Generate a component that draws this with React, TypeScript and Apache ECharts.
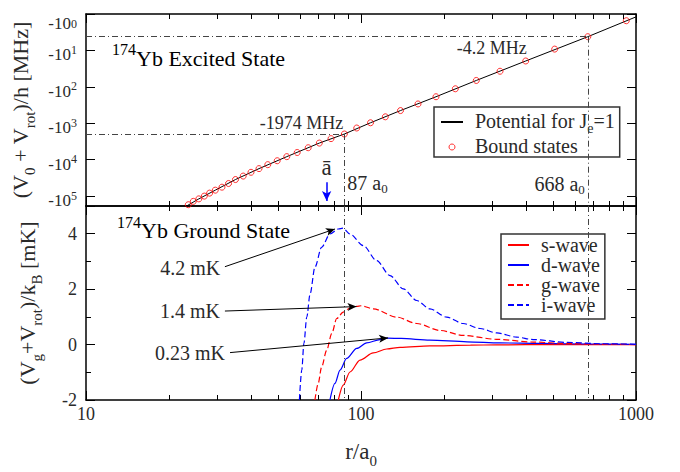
import { useEffect, useRef } from 'react';
import * as echarts from 'echarts';

const SERIF = '"Liberation Serif", "Times New Roman", Times, serif';
const INK = '#2a2a2a';

// ---- 174Yb excited state (J_e = 1): potential and bound states, energies in MHz ----
const potentialR = [23.0, 25.72, 29.52, 34.96, 42.57, 53.73, 70.53, 87, 108.3, 139.2, 187.4, 262.6, 397.2, 668, 1000];
const potentialE = [-195000, -119200, -68700, -35100, -17600, -8260, -3500, -1974, -969, -448, -187, -66.8, -19.5, -4.2, -1.2];

const boundR = [23.55, 24.56, 25.72, 26.93, 28.15, 29.52, 31.22, 32.98, 34.96, 37.29, 39.81, 42.57, 45.82, 49.58, 53.73, 58.61,
  64.27, 70.53, 77.8, 87, 96.5, 108.3, 122.6, 139.2, 161.2, 187.4, 220.3, 262.6, 320.3, 397.2, 506.2, 668, 922];
const boundE = [-172500, -139400, -119200, -100000, -82800, -68700, -56900, -45100, -35100, -28200, -22200, -17600, -13700, -10700,
  -8260, -6350, -4700, -3500, -2640, -1974, -1350, -969, -665, -448, -295, -187, -113, -66.8, -37.3, -19.5, -9.2, -4.2, -1.53];

// highlighted states: position (a0) and energy (MHz)
const markedR = [87, 668];
const markedE = [-1974, -4.2];

// mean scattering length (a0)
const aBarR = 75;

// ---- 174Yb ground state: V_g + V_rot for each partial wave, in mK ----
const sWaveR = [82.7, 86.2, 91.2, 99.2, 110.8, 124, 138.7, 178, 250, 312, 500, 1000];
const sWaveV = [-2.0, -1.46, -0.99, -0.56, -0.30, -0.16, -0.10, -0.05, -0.02, -0.01, 0.0, 0.0];

const dWaveR = [77.1, 80.4, 83.9, 88.7, 96.5, 104.8, 117.3, 125, 140, 178, 243, 320, 450, 700, 1000];
const dWaveV = [-2.0, -1.40, -0.92, -0.50, -0.14, 0.06, 0.18, 0.23, 0.22, 0.16, 0.10, 0.06, 0.04, 0.02, 0.01];

const gWaveR = [68.0, 69.9, 71.9, 75.0, 78.3, 81.6, 86.2, 91.2, 96.5, 100, 110.8, 134.9, 159.5, 193.8, 235.5, 311.6, 423, 560, 740, 1000];
const gWaveV = [-2.0, -1.40, -0.81, -0.21, 0.40, 0.94, 1.17, 1.32, 1.38, 1.4, 1.29, 0.99, 0.76, 0.51, 0.33, 0.19, 0.09, 0.04, 0.01, 0.0];

const iWaveR = [59.7, 60.9, 62.0, 63.5, 65.3, 68.0, 71.9, 77.1, 82.7, 86.0, 91.2, 102, 114, 127.5, 142.5, 159.5, 178, 205, 235,
  271, 312, 368, 423, 560, 740, 1000];
const iWaveV = [-2.0, -0.92, 0.04, 0.99, 1.83, 2.79, 3.51, 3.99, 4.17, 4.2, 3.99, 3.57, 3.03, 2.49, 2.01, 1.59, 1.29, 0.99, 0.76,
  0.58, 0.42, 0.27, 0.18, 0.08, 0.03, 0.01];

// where the barrier-height labels start (r in a0, value in mK) and where their arrows point
const barrierLabelR = [32.0, 32.0, 33.4];
const barrierLabelV = [2.81, 1.21, -0.29];
const barrierTipR = [80.4, 96.3, 125.4];
const barrierTipV = [4.17, 1.37, 0.24];

// axis ranges and tick labels
const rRange = [10, 1000];
const excitedRange = [1, 187000];
const groundRange = [-2, 5];
const xTickLabels = ['10', '100', '1000'];
const groundTickLabels = ['-2', '0', '2', '4'];

const POT = 'Potential for Je=1';
const BOUND = 'Bound states';
const WAVES = ['s-wave', 'd-wave', 'g-wave', 'i-wave'];

const zip = (xs: number[], ys: number[]) => xs.map((x, i) => [x, ys[i]]);
const zipAbs = (xs: number[], ys: number[]) => xs.map((x, i) => [x, Math.abs(ys[i])]);

const titleRich = {
  p: { fontFamily: SERIF, fontSize: 16, lineHeight: 16, verticalAlign: 'top', color: INK },
  b: { fontFamily: SERIF, fontSize: 22, lineHeight: 26, padding: [7, 0, 0, 0], color: INK },
};
const subRich = (size: number, subSize: number, lh: number, drop: number) => ({
  t: { fontFamily: SERIF, fontSize: size, lineHeight: lh, verticalAlign: 'top', color: INK },
  s: { fontFamily: SERIF, fontSize: subSize, lineHeight: subSize, padding: [drop, 0, 0, 0], verticalAlign: 'top', color: INK },
});

function buildOption() {
  const axisLine = { show: true, onZero: false, lineStyle: { color: '#000', width: 1.5 } };
  const tick = { show: true, inside: true, length: 9, lineStyle: { color: '#000', width: 1 } };
  const minorLen = 5;
  const minor = (n: number) => ({ show: true, splitNumber: n, length: minorLen, lineStyle: { color: '#000', width: 1 } });
  const noSplit = { show: false };

  const xBase = (gridIndex: number, position: string, labels: boolean) => ({
    type: 'log', logBase: 10, min: rRange[0], max: rRange[1], gridIndex, position,
    axisLine, axisTick: tick, minorTick: minor(9), splitLine: noSplit, minorSplitLine: noSplit,
    axisLabel: {
      show: labels, margin: 5, color: INK, fontFamily: SERIF, fontSize: 18,
      formatter: (v: number) => {
        const s = String(Math.round(v));
        return xTickLabels.includes(s) ? s : '';
      },
    },
  });

  const yExcited = (position: string, labels: boolean) => ({
    type: 'log', logBase: 10, min: excitedRange[0], max: excitedRange[1], inverse: true, gridIndex: 0, position,
    axisLine, axisTick: tick, splitLine: noSplit,
    axisLabel: {
      show: labels, margin: 9, padding: [4, 0, 0, 0],
      formatter: (v: number) => {
        const e = Math.log10(v);
        if (Math.abs(e - Math.round(e)) > 1e-6) return '';
        const n = Math.round(e);
        // the top label sits a little lower so it stays inside the frame
        return n === 0 ? `{b0|-10}{e0|${n}}` : `{b|-10}{e|${n}}`;
      },
      rich: {
        b: { fontFamily: SERIF, fontSize: 17, lineHeight: 17, padding: [5, 0, 0, 0], color: INK },
        e: { fontFamily: SERIF, fontSize: 12, lineHeight: 12, verticalAlign: 'top', color: INK },
        b0: { fontFamily: SERIF, fontSize: 17, lineHeight: 17, padding: [15, 0, 0, 0], color: INK },
        e0: { fontFamily: SERIF, fontSize: 12, lineHeight: 12, padding: [10, 0, 0, 0], verticalAlign: 'top', color: INK },
      },
    },
    name: labels ? '{t|(V}{s|0}{t| + V}{s|rot}{t|)/h [MHz]}' : '',
    nameLocation: 'middle', nameRotate: 90, nameGap: 44,
    nameTextStyle: { rich: subRich(22, 15, 26, 13) },
  });

  const yGround = (position: string, labels: boolean) => ({
    type: 'value', min: groundRange[0], max: groundRange[1], interval: 2, gridIndex: 1, position,
    axisLine, axisTick: tick, splitLine: noSplit,
    axisLabel: {
      show: labels, margin: 9, color: INK, fontFamily: SERIF, fontSize: 18,
      formatter: (v: number) => (groundTickLabels.includes(String(v)) ? String(v) : ''),
    },
    name: labels ? '{t|(V}{s|g}{t|+V}{s|rot}{t|)/k}{s|B}{t| [mK]}' : '',
    nameLocation: 'middle', nameRotate: 90, nameGap: 44,
    nameTextStyle: { rich: subRich(22, 15, 26, 13) },
  });

  // unit ticks for the ground-state panel (the minor ones between labelled ticks)
  const yGroundUnits = (position: string) => ({
    type: 'value', min: groundRange[0], max: groundRange[1], interval: 1, gridIndex: 1, position,
    axisLine: { show: false }, splitLine: noSplit, axisLabel: { show: false },
    axisTick: { show: true, inside: true, length: minorLen, lineStyle: { color: '#000', width: 1 } },
  });

  const dashDot = { color: '#444', width: 1, type: [6, 3, 1, 3] };

  const excitedGuides = markedR.flatMap((r, i) => [
    [{ coord: [rRange[0], Math.abs(markedE[i])], symbol: 'none', lineStyle: dashDot }, { coord: [r, Math.abs(markedE[i])], symbol: 'none' }],
    [{ coord: [r, Math.abs(markedE[i])], symbol: 'none', lineStyle: dashDot }, { coord: [r, excitedRange[1]], symbol: 'none' }],
  ]);
  const groundGuides = markedR.map((r) => [
    { coord: [r, groundRange[1]], symbol: 'none', lineStyle: dashDot },
    { coord: [r, groundRange[0]], symbol: 'none' },
  ]);

  const peaks = [iWaveV, gWaveV, dWaveV].map((v) => Math.max(...v));
  const barrierArrows = peaks.map((p, i) => [
    {
      coord: [barrierLabelR[i], barrierLabelV[i]], symbol: 'none',
      lineStyle: { color: '#000', width: 1, type: 'solid' },
      label: { show: true, position: 'start', distance: 5, formatter: `${p} mK`, color: INK, fontFamily: SERIF, fontSize: 20 },
    },
    { coord: [barrierTipR[i], barrierTipV[i]], symbol: 'arrow', symbolSize: [6, 9] },
  ]);

  const aBarArrow = [
    {
      coord: [aBarR, 41700], symbol: 'none',
      lineStyle: { color: '#0000ff', width: 1.5, type: 'solid' },
      label: { show: true, position: 'start', distance: 3, formatter: 'ā', color: INK, fontFamily: SERIF, fontSize: 23 },
    },
    { coord: [aBarR, 136800], symbol: 'arrow', symbolSize: [7, 10] },
  ];

  const markedLabelRich = subRich(20, 13, 20, 9);
  const markedLabels = [
    { coord: [markedR[0], Math.abs(markedE[0])], label: { formatter: `${markedE[0]} MHz`, align: 'right', offset: [-1, -11] } },
    { coord: [markedR[1], Math.abs(markedE[1])], label: { formatter: `${markedE[1]} MHz`, align: 'right', offset: [-61, 11] } },
    { coord: [markedR[0], Math.abs(markedE[0])], label: { formatter: `{t|${markedR[0]} a}{s|0}`, align: 'left', offset: [3, 49], rich: markedLabelRich } },
    { coord: [markedR[1], Math.abs(markedE[1])], label: { formatter: `{t|${markedR[1]} a}{s|0}`, align: 'right', offset: [-3, 147], rich: markedLabelRich } },
  ];

  const waveLine = (name: string, r: number[], v: number[], color: string, dashed: boolean, extra: any = {}) => ({
    name, type: 'line', xAxisIndex: 2, yAxisIndex: 2, data: zip(r, v),
    symbol: 'none', smooth: 0.3, smoothMonotone: 'x', clip: true,
    lineStyle: { color, width: 1.2, type: dashed ? [6, 3] : 'solid' },
    itemStyle: { color },
    z: 3, ...extra,
  });

  const hiddenSymbol = { opacity: 0 };

  return {
    animation: false,
    backgroundColor: '#fff',
    textStyle: { fontFamily: SERIF },
    grid: [
      { left: 86, top: 12, width: 550, height: 194 },
      { left: 86, top: 206, width: 550, height: 194 },
    ],
    xAxis: [
      xBase(0, 'bottom', false),
      xBase(0, 'top', false),
      {
        ...xBase(1, 'bottom', true),
        name: '{t|r/a}{s|0}', nameLocation: 'middle', nameGap: 40,
        nameTextStyle: { rich: subRich(23, 15, 26, 13) },
      },
      xBase(1, 'top', false),
    ],
    yAxis: [
      yExcited('left', true), yExcited('right', false),
      yGround('left', true), yGround('right', false),
      yGroundUnits('left'), yGroundUnits('right'),
    ],
    legend: [
      {
        orient: 'vertical', left: 434, top: 107, selectedMode: false,
        backgroundColor: '#fff', borderColor: '#333', borderWidth: 1.5, borderRadius: 0,
        padding: [4, 5, 1, 6], itemGap: 1, itemWidth: 22, itemHeight: 6,
        textStyle: { color: INK, fontFamily: SERIF, fontSize: 20, padding: [0, 0, 0, 7], rich: subRich(20, 14, 22, 10) },
        formatter: (name: string) => (name === POT ? '{t|Potential for J}{s|e}{t|=1}' : `{t|${name}}`),
        data: [
          { name: POT, itemStyle: hiddenSymbol },
          { name: BOUND, icon: 'circle', itemStyle: { color: 'rgba(0,0,0,0)', borderColor: '#ff0000', borderWidth: 1 } },
        ],
      },
      {
        orient: 'vertical', left: 501, top: 234, selectedMode: false,
        backgroundColor: '#fff', borderColor: '#333', borderWidth: 1.5, borderRadius: 0,
        padding: [1, 5, 4, 6], itemGap: 0, itemWidth: 21, itemHeight: 6,
        itemStyle: hiddenSymbol,
        textStyle: { color: INK, fontFamily: SERIF, fontSize: 20, lineHeight: 18.7, padding: [0, 0, 0, 7] },
        data: WAVES.map((name) => ({ name, itemStyle: hiddenSymbol })),
      },
    ],
    graphic: [
      { type: 'text', left: 112, top: 40, style: { text: '{p|174}{b|Yb Excited State}', rich: titleRich } },
      { type: 'text', left: 117, top: 212.5, style: { text: '{p|174}{b|Yb Ground State}', rich: titleRich } },
    ],
    series: [
      {
        name: POT, type: 'line', xAxisIndex: 0, yAxisIndex: 0, data: zipAbs(potentialR, potentialE),
        symbol: 'none', clip: true, lineStyle: { color: '#000', width: 1 }, itemStyle: { color: '#000' }, z: 2,
        markLine: { silent: true, symbol: ['none', 'none'], label: { show: false }, data: [...excitedGuides, aBarArrow] },
        markPoint: {
          silent: true, symbol: 'circle', symbolSize: 0, itemStyle: { color: 'rgba(0,0,0,0)' },
          label: { show: true, position: 'inside', color: INK, fontFamily: SERIF, fontSize: 18 },
          data: markedLabels,
        },
      },
      {
        name: BOUND, type: 'scatter', xAxisIndex: 0, yAxisIndex: 0, data: zipAbs(boundR, boundE),
        symbol: 'circle', symbolSize: 6, z: 4,
        itemStyle: { color: 'rgba(0,0,0,0)', borderColor: '#ff0000', borderWidth: 1 },
      },
      waveLine('s-wave', sWaveR, sWaveV, '#ff0000', false, {
        markLine: { silent: true, symbol: ['none', 'none'], label: { show: false }, data: [...groundGuides, ...barrierArrows] },
      }),
      waveLine('d-wave', dWaveR, dWaveV, '#0000ff', false),
      waveLine('g-wave', gWaveR, gWaveV, '#ff0000', true),
      waveLine('i-wave', iWaveR, iWaveV, '#0000ff', true),
    ],
  };
}

export default function App() {
  const ref = useRef<HTMLDivElement>(null);
  useEffect(() => {
    if (!ref.current) return;
    const chart = echarts.init(ref.current, null, { renderer: 'svg' });
    chart.setOption(buildOption() as any);
    return () => chart.dispose();
  }, []);
  return (
    <div
      ref={ref}
      style={{ position: 'fixed', left: 0, top: 0, width: 680, height: 472, background: '#fff' }}
    />
  );
}
